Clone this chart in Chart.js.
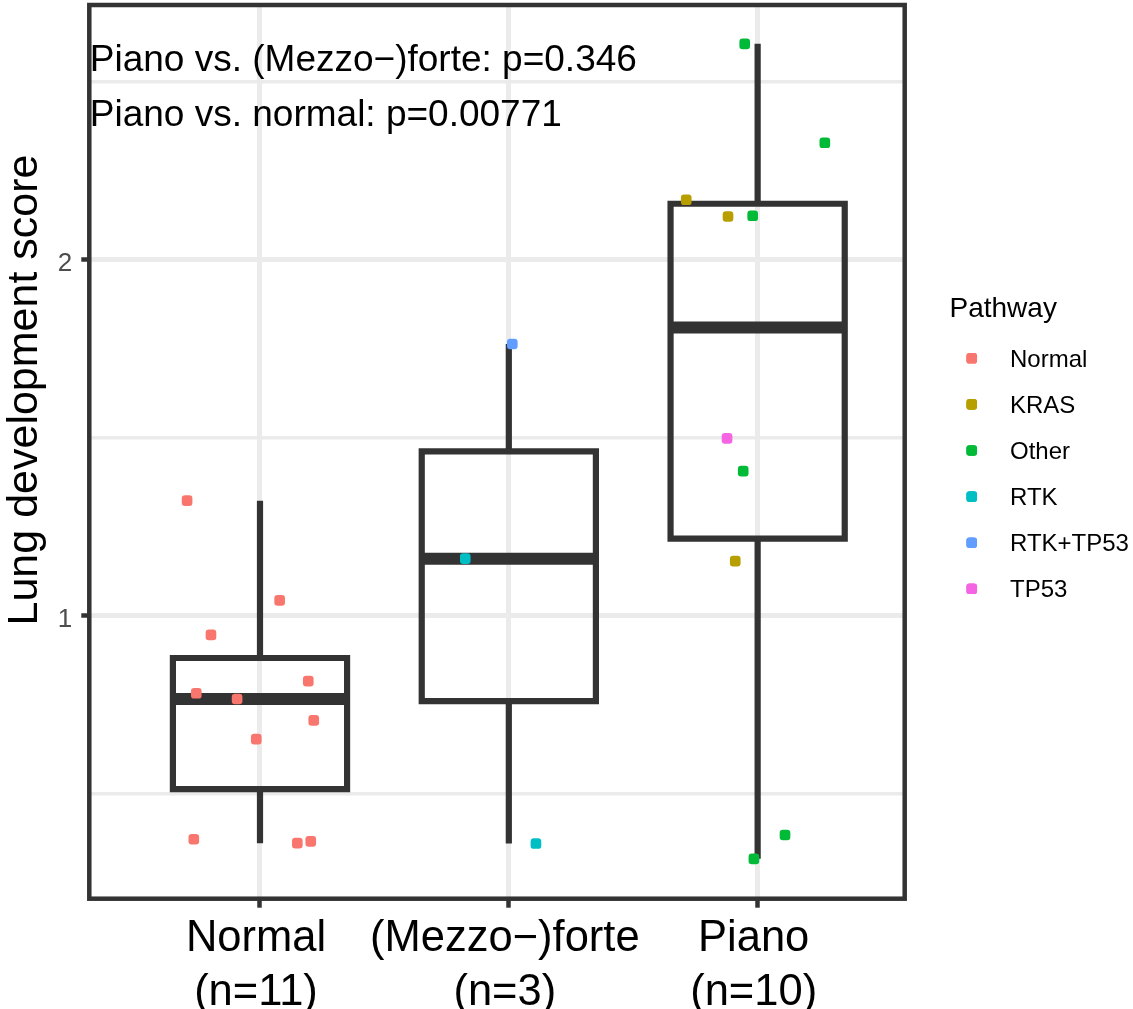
<!DOCTYPE html>
<html>
<head>
<meta charset="utf-8">
<title>Lung development score by group</title>
<script src="https://cdn.jsdelivr.net/npm/chart.js"></script>
<style>
  html, body { margin: 0; padding: 0; background: #ffffff; }
  #wrap { position: relative; width: 1133px; height: 1009px; }
  canvas { display: block; }
</style>
</head>
<body>
<div id="wrap"><canvas id="chart" width="1133" height="1009"></canvas></div>
<script>
// ---- data ----
const categories = ['Normal', '(Mezzo\u2212)forte', 'Piano'];
const pathways = ['Normal', 'KRAS', 'Other', 'RTK', 'RTK+TP53', 'TP53'];
const pathwayColors = ['#F8766D', '#B79F00', '#00BA38', '#00BFC4', '#619CFF', '#F564E3'];

// samples of each group: score, horizontal jitter and pathway
const normalScores  = [1.324, 1.044, 0.947, 0.783, 0.767, 0.817, 0.707, 0.654, 0.373, 0.362, 0.367];
const normalJitter  = [-0.293, 0.079, -0.197, -0.256, -0.092, 0.194, 0.216, -0.015, -0.266, 0.150, 0.204];
const normalPathway = ['Normal', 'Normal', 'Normal', 'Normal', 'Normal', 'Normal', 'Normal', 'Normal', 'Normal', 'Normal', 'Normal'];

const forteScores  = [1.764, 1.161, 0.361];
const forteJitter  = [0.014, -0.175, 0.109];
const fortePathway = ['RTK+TP53', 'RTK', 'RTK'];

const pianoScores  = [2.607, 2.329, 2.169, 2.122, 2.124, 1.499, 1.407, 1.154, 0.385, 0.318];
const pianoJitter  = [-0.052, 0.270, -0.287, -0.119, -0.020, -0.123, -0.058, -0.090, 0.110, -0.015];
const pianoPathway = ['Other', 'Other', 'KRAS', 'KRAS', 'Other', 'TP53', 'Other', 'KRAS', 'Other', 'Other'];

const yTickValues = [0.5, 1, 1.5, 2, 2.5];
const yTickLabels = ['', '1', '', '2', ''];
const annotations = ['Piano vs. (Mezzo\u2212)forte: p=0.346', 'Piano vs. normal: p=0.00771'];
const yTitle = 'Lung development score';
const legendTitle = 'Pathway';

// ---- derived structures ----
const groupScores   = [normalScores, forteScores, pianoScores];
const groupJitter   = [normalJitter, forteJitter, pianoJitter];
const groupPathways = [normalPathway, fortePathway, pianoPathway];
const xLabels = categories.map((c, i) => [c, '(n=' + groupScores[i].length + ')']);

function quantile(sorted, p) {
  const h = (sorted.length - 1) * p;
  const lo = Math.floor(h);
  const hi = Math.min(lo + 1, sorted.length - 1);
  return sorted[lo] + (h - lo) * (sorted[hi] - sorted[lo]);
}
function boxStats(values) {
  const s = values.slice().sort((a, b) => a - b);
  const q1 = quantile(s, 0.25), med = quantile(s, 0.5), q3 = quantile(s, 0.75);
  const iqr = q3 - q1;
  const inside = s.filter(v => v >= q1 - 1.5 * iqr && v <= q3 + 1.5 * iqr);
  return { q1, med, q3, lo: inside[0], hi: inside[inside.length - 1] };
}

const FONT = "'Liberation Sans', Arial, Helvetica, sans-serif";
const INK = '#333333';
const BOX_HALF = 0.35;
const POINT_R = 6.2;

const datasets = [];

// jittered points, one dataset per pathway
pathways.forEach((pw, k) => {
  const pts = [];
  groupScores.forEach((scores, g) => {
    scores.forEach((v, i) => {
      if (groupPathways[g][i] === pw) pts.push({ x: g + 1 + groupJitter[g][i], y: v });
    });
  });
  datasets.push({
    label: pw,
    data: pts,
    showLine: false,
    pointStyle: 'rectRounded',
    pointRadius: POINT_R,
    pointHoverRadius: POINT_R,
    pointBackgroundColor: pathwayColors[k],
    pointBorderWidth: 0,
    borderColor: pathwayColors[k],
    backgroundColor: pathwayColors[k],
    order: 0
  });
});

// box plots
groupScores.forEach((scores, g) => {
  const c = g + 1;
  const st = boxStats(scores);
  const lineStyle = { showLine: true, pointRadius: 0, pointHoverRadius: 0, borderColor: INK, tension: 0, fill: false };
  datasets.push(Object.assign({
    label: 'median ' + g,
    data: [{ x: c - BOX_HALF, y: st.med }, { x: c + BOX_HALF, y: st.med }],
    borderWidth: 12, borderCapStyle: 'butt', order: 1
  }, lineStyle));
  datasets.push(Object.assign({
    label: 'box ' + g,
    data: [{ x: c - BOX_HALF, y: st.q1 }, { x: c + BOX_HALF, y: st.q1 }, { x: c + BOX_HALF, y: st.q3 },
           { x: c - BOX_HALF, y: st.q3 }, { x: c - BOX_HALF, y: st.q1 }],
    borderWidth: 6.2, borderJoinStyle: 'miter', borderCapStyle: 'square', order: 2
  }, lineStyle));
  datasets.push(Object.assign({
    label: 'upper whisker ' + g,
    data: [{ x: c, y: st.q3 }, { x: c, y: st.hi }],
    borderWidth: 6.2, borderCapStyle: 'butt', order: 3
  }, lineStyle));
  datasets.push(Object.assign({
    label: 'lower whisker ' + g,
    data: [{ x: c, y: st.lo }, { x: c, y: st.q1 }],
    borderWidth: 6.2, borderCapStyle: 'butt', order: 3
  }, lineStyle));
});

// panel frame, axis title, annotations and legend
const decorations = {
  id: 'decorations',
  afterDraw(chart) {
    const { ctx, chartArea: a } = chart;
    ctx.save();
    // frame
    ctx.strokeStyle = INK;
    ctx.lineWidth = 4.5;
    ctx.strokeRect(a.left, a.top, a.right - a.left, a.bottom - a.top);

    // annotation text
    ctx.fillStyle = '#000000';
    ctx.font = '37px ' + FONT;
    ctx.textAlign = 'left';
    ctx.textBaseline = 'alphabetic';
    ctx.fillText(annotations[0], a.left + 0.5, 71);
    ctx.fillText(annotations[1], a.left + 0.5, 125.5);

    // y axis title
    ctx.save();
    ctx.translate(37, 390);
    ctx.rotate(-Math.PI / 2);
    ctx.font = '43px ' + FONT;
    ctx.textAlign = 'center';
    ctx.fillText(yTitle, 0, 0);
    ctx.restore();

    // legend
    ctx.font = '28px ' + FONT;
    ctx.fillStyle = '#000000';
    ctx.fillText(legendTitle, 949.5, 316.5);
    ctx.font = '24px ' + FONT;
    pathways.forEach((pw, k) => {
      const ky = 358.3 + k * 46.1;
      ctx.fillStyle = pathwayColors[k];
      if (Chart.helpers && Chart.helpers.drawPoint) {
        Chart.helpers.drawPoint(ctx, { pointStyle: 'rectRounded', radius: POINT_R, borderWidth: 0 }, 971.7, ky);
        ctx.fill();
      } else {
        ctx.fillRect(967, ky - 5, 10, 10.5);
      }
      ctx.fillStyle = '#000000';
      ctx.fillText(pw, 1010, ky + 8.5);
    });
    ctx.restore();
  }
};

new Chart(document.getElementById('chart'), {
  type: 'scatter',
  data: { datasets },
  options: {
    responsive: false,
    animation: false,
    devicePixelRatio: 1,
    layout: { autoPadding: false, padding: { top: 5, right: 228.3, left: 0, bottom: 0 } },
    plugins: { legend: { display: false }, tooltip: { enabled: false } },
    scales: {
      x: {
        type: 'linear',
        min: 0.314,
        max: 3.591,
        afterBuildTicks(scale) { scale.ticks = [1, 2, 3].map(v => ({ value: v })); },
        afterFit(scale) { scale.height = 110.3; scale.paddingLeft = 0; scale.paddingRight = 0; },
        border: { display: false },
        grid: {
          color: '#EBEBEB',
          lineWidth: 5,
          drawTicks: true,
          tickLength: 9,
          tickColor: INK,
          tickWidth: 4.5
        },
        ticks: {
          autoSkip: false,
          maxRotation: 0,
          minRotation: 0,
          padding: 4,
          labelOffset: -4,
          color: '#000000',
          font: { family: FONT, size: 43.5, lineHeight: 1.24 },
          callback: (v) => xLabels[Math.round(v) - 1]
        }
      },
      y: {
        type: 'linear',
        min: 0.206,
        max: 2.716,
        afterBuildTicks(scale) { scale.ticks = yTickValues.map(v => ({ value: v })); },
        afterFit(scale) { scale.width = 89.3; scale.paddingTop = 0; scale.paddingBottom = 0; },
        border: { display: false },
        grid: {
          color: '#EBEBEB',
          lineWidth: (ctx) => (ctx.tick && ctx.tick.value % 1 === 0 ? 5 : 3.5),
          drawTicks: true,
          tickLength: 8,
          tickColor: (ctx) => (ctx.tick && ctx.tick.value % 1 === 0 ? INK : 'rgba(0,0,0,0)'),
          tickWidth: 4.5
        },
        ticks: {
          autoSkip: false,
          padding: 9,
          labelOffset: 4,
          color: '#4D4D4D',
          font: { family: FONT, size: 26 },
          callback: (v) => yTickLabels[yTickValues.indexOf(v)]
        }
      }
    }
  },
  plugins: [decorations]
});
</script>
</body>
</html>
